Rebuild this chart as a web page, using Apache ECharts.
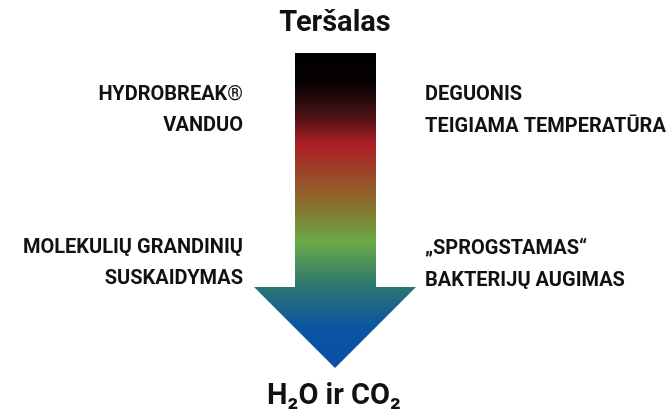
<!DOCTYPE html>
<html>
<head>
<meta charset="utf-8">
<script src="https://cdn.jsdelivr.net/npm/echarts@6/dist/echarts.min.js"></script>
<style>
  html, body { margin: 0; padding: 0; background: #fff; }
  #chart { width: 668px; height: 409px; }
</style>
</head>
<body>
<div id="chart"></div>
<script>
// arrow outline in diagram units (x right, y down)
var arrowShape = [[295, 53], [376, 53], [376, 287], [416, 287], [335, 368], [254, 287], [295, 287]];
// colour bands along the arrow, top -> tip
var bandStops = [0, 0.1, 0.2, 0.29, 0.47, 0.6, 0.74, 0.87, 1];
var bandColors = ['#000000', '#0a0303', '#4a1214', '#ae1f27', '#8b6a2b', '#6aaa46', '#2b7670', '#0b55a2', '#0a4fa0'];

var headTexts = ['Teršalas', 'H₂O ir CO₂'];
var headPos = [[335, 24], [334, 397]];

var leftTexts = ['HYDROBREAK®', 'VANDUO', 'MOLEKULIŲ GRANDINIŲ', 'SUSKAIDYMAS'];
var leftPos = [[243, 95], [243, 126], [243, 248], [243, 279]];
var rightTexts = ['DEGUONIS', 'TEIGIAMA TEMPERATŪRA', '„SPROGSTAMAS“', 'BAKTERIJŲ AUGIMAS'];
var rightPos = [[425, 95], [425, 127], [425, 249], [425, 281]];

var myChart = echarts.init(document.getElementById('chart'));

function textSeries(texts, pos, align, font) {
    return {
        type: 'custom',
        data: pos.map(function (p, i) { return [p[0], p[1], texts[i]]; }),
        renderItem: function (params, api) {
            var pt = api.coord([api.value(0), api.value(1)]);
            return {
                type: 'text',
                x: pt[0],
                y: pt[1],
                style: {
                    text: texts[params.dataIndex],
                    fill: '#111',
                    font: font,
                    align: align,
                    verticalAlign: 'middle'
                }
            };
        },
        silent: true
    };
}

option = {
    animation: false,
    grid: { left: 0, right: 0, top: 0, bottom: 0 },
    xAxis: { type: 'value', min: 0, max: 668, show: false },
    yAxis: { type: 'value', min: 0, max: 409, inverse: true, show: false },
    series: [{
        type: 'custom',
        data: [0],
        silent: true,
        renderItem: function (params, api) {
            var pts = arrowShape.map(function (p) { return api.coord(p); });
            return {
                type: 'polygon',
                shape: { points: pts },
                style: {
                    fill: new echarts.graphic.LinearGradient(0, 0, 0, 1,
                        bandStops.map(function (s, i) { return { offset: s, color: bandColors[i] }; }))
                }
            };
        }
    },
        textSeries(headTexts, headPos, 'center', 'bold 29px Roboto'),
        textSeries(leftTexts, leftPos, 'right', 'bold 20px Roboto'),
        textSeries(rightTexts, rightPos, 'left', 'bold 20px Roboto')
    ]
};

myChart.setOption(option);
</script>
</body>
</html>
